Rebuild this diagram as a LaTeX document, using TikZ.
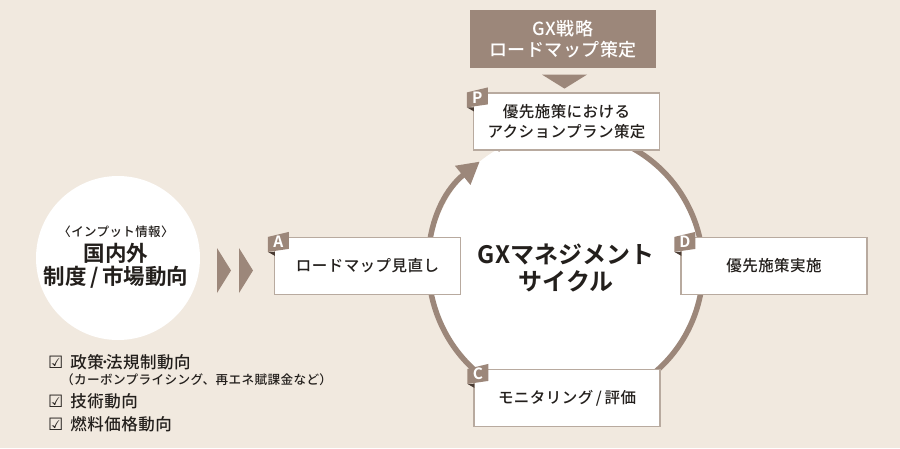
\documentclass[tikz,border=0pt]{standalone}
\usepackage{fontspec}
\setmainfont{Noto Sans CJK JP}[BoldFont={Noto Sans CJK JP Bold}]
\newfontfamily\medfont{Noto Sans CJK JP Medium}[LetterSpace=3]
\newfontfamily\symfont{DejaVu Sans}
\usetikzlibrary{arrows.meta}
\definecolor{bgbeige}{HTML}{F1E9DF}
\definecolor{mocha}{HTML}{9C877A}
\definecolor{mochadark}{HTML}{4A3C34}
\definecolor{edgegray}{HTML}{B8AA9F}
\definecolor{inkblack}{HTML}{231F1C}

\begin{document}
\begin{tikzpicture}[x=1pt,y=-1pt]

% Define box and tab styles
\tikzstyle{stepbox} =[draw=edgegray, line width=1.2pt, fill=white,
                      minimum width=186pt, minimum height=57pt, inner sep=0pt,
                      align=center, text=inkblack,
                      font=\medfont\fontsize{15.5}{20}\selectfont]
\tikzstyle{ring} =[draw=mocha, line width=5.5pt,
                   -{Triangle[length=22pt, width=23pt]}]
\tikzstyle{checkline} =[anchor=west, inner sep=0pt, text=inkblack]

\fill[bgbeige] (0,0) rectangle (900,448);
\useasboundingbox (0,0) rectangle (900,448);

% input circle
\node[circle, fill=white, minimum size=164pt] (input) at (118,258) {};
\node[text=inkblack, font=\medfont\fontsize{12.5}{15}\selectfont] (inputtag) at (116,232) {〈インプット情報〉};
\node[text=inkblack, align=center, font=\bfseries\fontsize{21.5}{22.5}\selectfont] (inputtitle) at (116,266) {国内外\\制度\,/\,市場動向};

\foreach \x in {217,239}{
  \fill[mocha] (\x,248) -- (\x+14,270.5) -- (\x,293) -- cycle;
}

% checklist
\node[checkline, font=\medfont\fontsize{16.5}{18}\selectfont] (chk1) at (48,362) {{\symfont\fontsize{17}{18}\selectfont ☑}\hspace{7pt}政策\kern-3pt･\kern-3pt 法規制動向};
\node[checkline, font=\medfont\fontsize{12.6}{14}\selectfont] (chk1note) at (61,380) {（カーボンプライシング、再エネ賦課金など）};
\node[checkline, font=\medfont\fontsize{16.5}{18}\selectfont] (chk2) at (48,401) {{\symfont\fontsize{17}{18}\selectfont ☑}\hspace{7pt}技術動向};
\node[checkline, font=\medfont\fontsize{16.5}{18}\selectfont] (chk3) at (48,424) {{\symfont\fontsize{17}{18}\selectfont ☑}\hspace{7pt}燃料価格動向};

% cycle
\node[circle, fill=white, minimum size=274pt, align=center, text=inkblack,
      font=\bfseries\fontsize{24}{27}\selectfont] (cycle) at (566,268) {GXマネジメント\\サイクル};
\draw[ring] ([shift={(240:137)}]cycle.center) arc[start angle=240, end angle=591, radius=137];

% strategy box
\node[stepbox, draw=none, fill=mocha, text=white, minimum height=58pt,
      font=\medfont\fontsize{18}{21}\selectfont] (gx) at (563,39) {GX戦略\\ロードマップ策定};
\fill[mocha] ([shift={(-21,6)}]gx.south) -- ++(45,0) -- ++(-22.5,14) -- cycle;

\node[stepbox] (pbox) at (566.5,121.5) {優先施策における\\アクションプラン策定};
\node[stepbox] (dbox) at (774,266) {優先施策実施};
\node[stepbox] (cbox) at (567,398) {モニタリング\,/\,評価};
\node[stepbox] (abox) at (367.5,266) {ロードマップ見直し};

\foreach \b/\l in {pbox/P, dbox/D, cbox/C, abox/A}{
  \fill[mochadark] ([shift={(-6,15)}]\b.north west) -- ++(7,0) -- ++(0,4) -- cycle;
  \fill[mocha] ([shift={(-6,0)}]\b.north west) -- ++(21,-5) -- ++(0,17) -- ++(-21,3) -- cycle;
  \node[text=white, inner sep=0pt, font=\bfseries\fontsize{15.5}{16}\selectfont] (tab\l) at ([shift={(4.5,5)}]\b.north west) {\l};
}

\end{tikzpicture}
\end{document}
